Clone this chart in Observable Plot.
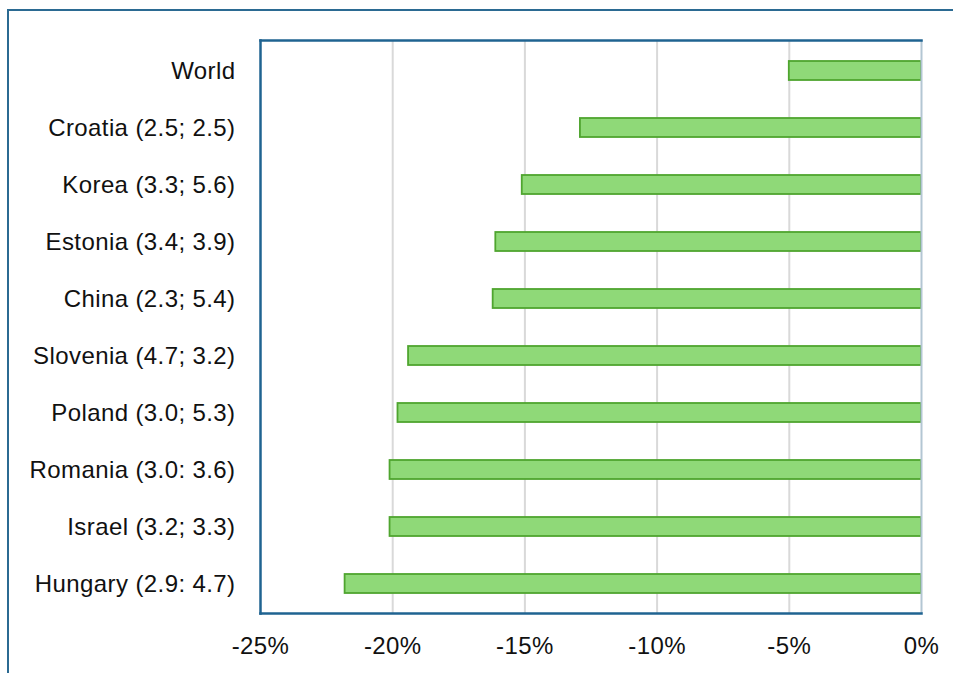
<!DOCTYPE html>
<html>
<head>
<meta charset="utf-8">
<script src="https://cdn.jsdelivr.net/npm/d3@7"></script>
<script src="https://cdn.jsdelivr.net/npm/@observablehq/plot@0.6"></script>
<style>
  html, body { margin: 0; padding: 0; background: #fff; overflow: hidden; }
  #wrap { position: relative; width: 953px; height: 673px; overflow: hidden; }
  #outer { position: absolute; left: 7px; top: 9px; width: 1000px; height: 700px; border: 2px solid #2b6a92; box-sizing: border-box; }
  #chart { position: absolute; left: 0; top: 0; }
  #chart svg text { letter-spacing: 0.4px; }
</style>
</head>
<body>
<div id="wrap">
  <div id="outer"></div>
  <div id="chart"></div>
</div>
<script>
const categories = [
  "World",
  "Croatia (2.5; 2.5)",
  "Korea (3.3; 5.6)",
  "Estonia (3.4; 3.9)",
  "China (2.3; 5.4)",
  "Slovenia (4.7; 3.2)",
  "Poland (3.0; 5.3)",
  "Romania (3.0: 3.6)",
  "Israel (3.2; 3.3)",
  "Hungary (2.9: 4.7)"
];
const values = [-5.0, -12.9, -15.1, -16.1, -16.2, -19.4, -19.8, -20.1, -20.1, -21.8];
const xTicks = [-25, -20, -15, -10, -5, 0];
const gridTicks = [-20, -15, -10, -5];

const data = categories.map((c, i) => ({category: c, value: values[i]}));

const chart = Plot.plot({
  width: 953,
  height: 673,
  marginLeft: 260,
  marginRight: 32,
  marginTop: 40,
  marginBottom: 60,
  style: {fontFamily: "'Liberation Sans', Arial, sans-serif", fontSize: "24px", color: "#111", background: "transparent"},
  x: {domain: [-25, 0], ticks: xTicks, tickFormat: d => d + "%", tickSize: 0, tickPadding: 23, label: null},
  y: {domain: categories, paddingInner: 0.67, paddingOuter: 0.335, tickSize: 0, tickPadding: 25, label: null},
  marks: [
    Plot.ruleX(gridTicks, {stroke: "#d9d9d9", strokeWidth: 2}),
    Plot.barX(data, {y: "category", x1: "value", x2: 0, fill: "#8fd978", stroke: "#4fa52f", strokeWidth: 1.8}),
    Plot.ruleX([0], {stroke: "#b3c6d3", strokeWidth: 2}),
    Plot.frame({anchor: "top", stroke: "#1f6391", strokeWidth: 2.5}),
    Plot.frame({anchor: "bottom", stroke: "#1f6391", strokeWidth: 2.5}),
    Plot.frame({anchor: "left", stroke: "#1f6391", strokeWidth: 2.5})
  ]
});
document.getElementById("chart").appendChild(chart);
</script>
</body>
</html>
